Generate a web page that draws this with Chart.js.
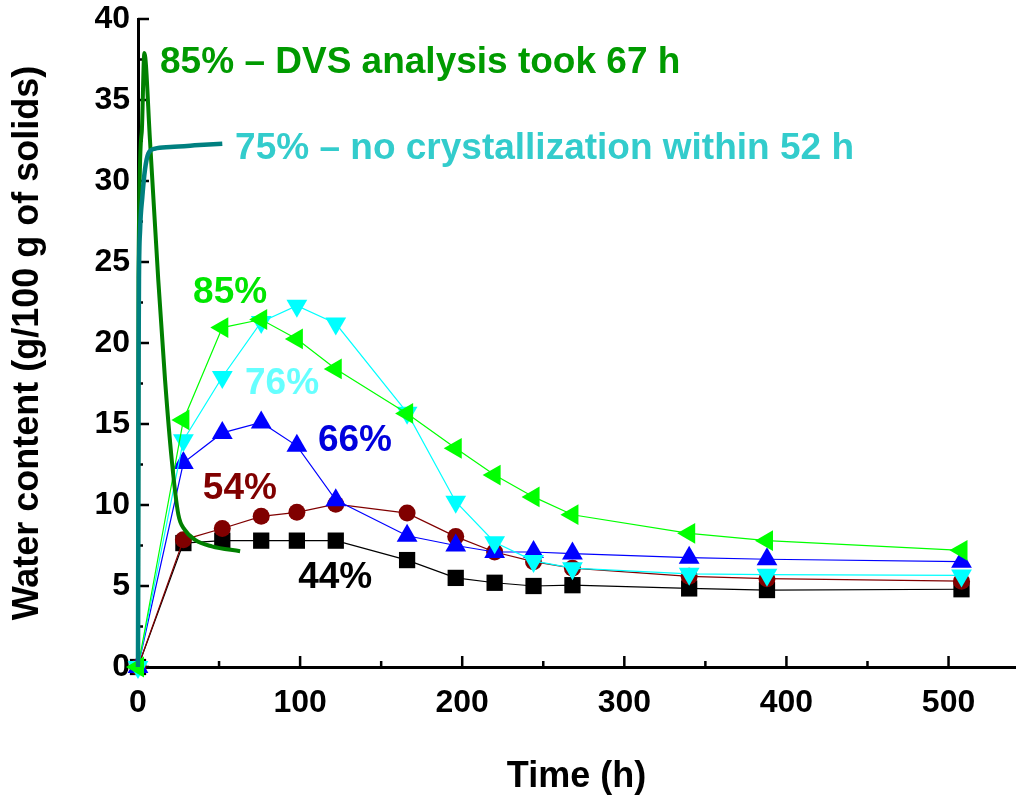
<!DOCTYPE html>
<html>
<head>
<meta charset="utf-8">
<script src="https://cdn.jsdelivr.net/npm/chart.js@4"></script>
<style>
    body { margin: 0; background: #fff; }
    #wrap { width: 1018px; height: 797px; }
</style>
</head>
<body>
<div id="wrap"><canvas id="chart"></canvas></div>
<script>
    // ===== Data =====
    const times = [0, 28, 52, 76, 98, 122, 166, 196, 220, 244, 268, 340, 388, 508];
    const water44 = [0, 7.65, 7.8, 7.8, 7.8, 7.8, 6.6, 5.5, 5.2, 5.0, 5.05, 4.85, 4.75, 4.8];
    const water54 = [0, 7.85, 8.55, 9.3, 9.55, 10.05, 9.5, 8.05, 7.1, 6.5, 6.1, 5.6, 5.45, 5.3];
    const water66 = [0, 12.6, 14.45, 15.1, 13.65, 10.3, 8.1, 7.5, 7.1, 7.1, 7.0, 6.75, 6.65, 6.5];
    const water76 = [0, 14.0, 17.9, 21.3, 22.3, 21.2, 15.7, 10.2, 7.7, 6.55, 6.1, 5.75, 5.7, 5.65];
    const water85 = [0, 15.25, 20.95, 21.45, 20.25, 18.4, 15.65, 13.5, 11.85, 10.5, 9.4, 8.25, 7.8, 7.2];

    const dvs85Time = [0, 0.3, 2.3, 3.9, 7.4, 12.5, 16.7, 20.8, 24.9, 29, 35.2, 45.5, 63];
    const dvs85Water = [0, 24, 33, 37.9, 32.5, 23.9, 17.7, 12.8, 9.4, 8.45, 7.85, 7.45, 7.15];
    const dvs75Time = [0, 0.2, 0.4, 0.6, 1.3, 2.65, 4.3, 6.4, 10.5, 20, 35, 52];
    const dvs75Water = [0, 10, 20, 24, 27, 29, 30.7, 31.7, 32.0, 32.1, 32.2, 32.3];

    const xTicks = [0, 100, 200, 300, 400, 500];
    const xMinor = [50, 150, 250, 350, 450];
    const yTicks = [0, 5, 10, 15, 20, 25, 30, 35, 40];
    const yMinor = [2.5, 7.5, 12.5, 17.5, 22.5, 27.5, 32.5, 37.5];

    const labels = ['85% – DVS analysis took 67 h', '75% – no crystallization within 52 h',
        '85%', '76%', '66%', '54%', '44%'];

    const FONT = '"Liberation Sans", Arial, sans-serif';

    function pts(xs, ys) {
        return xs.map((x, i) => ({ x: x, y: ys[i] }));
    }

    function series(values, color, style, rotation, radius) {
        return {
            data: pts(times, values),
            showLine: true,
            borderColor: color,
            borderWidth: 1.2,
            backgroundColor: color,
            pointBackgroundColor: color,
            pointBorderColor: color,
            pointBorderWidth: 0,
            pointStyle: style,
            rotation: rotation,
            pointRadius: radius,
            pointHoverRadius: radius,
            clip: false
        };
    }

    function curve(xs, ys, color, width) {
        return {
            data: pts(xs, ys),
            showLine: true,
            borderColor: color,
            borderWidth: width,
            pointRadius: 0,
            tension: 0.4,
            cubicInterpolationMode: 'monotone',
            clip: false
        };
    }

    // ===== Plugins =====
    const innerTicks = {
        id: 'innerTicks',
        beforeDatasetsDraw(chart) {
            const { ctx, chartArea, scales } = chart;
            ctx.save();
            ctx.strokeStyle = '#000';
            ctx.lineWidth = 2.5;
            ctx.beginPath();
            xTicks.forEach(v => {
                const px = scales.x.getPixelForValue(v);
                ctx.moveTo(px, chartArea.bottom);
                ctx.lineTo(px, chartArea.bottom - 11);
            });
            xMinor.forEach(v => {
                const px = scales.x.getPixelForValue(v);
                ctx.moveTo(px, chartArea.bottom);
                ctx.lineTo(px, chartArea.bottom - 6);
            });
            yTicks.forEach(v => {
                const py = scales.y.getPixelForValue(v);
                ctx.moveTo(chartArea.left, py);
                ctx.lineTo(chartArea.left + 11, py);
            });
            yMinor.forEach(v => {
                const py = scales.y.getPixelForValue(v);
                ctx.moveTo(chartArea.left, py);
                ctx.lineTo(chartArea.left + 5, py);
            });
            ctx.stroke();
            ctx.restore();
        }
    };

    const notes = {
        id: 'notes',
        afterDatasetsDraw(chart) {
            const { ctx, scales } = chart;
            // anchor (left, middle) of each label in data units
            const spots = [
                [13.6, 37.3, '#009a00'],
                [59.9, 32.0, '#33cccc'],
                [34, 23.1, '#00e600'],
                [66, 17.5, '#66ffff'],
                [111, 13.95, '#0000dd'],
                [40, 11.0, '#800000'],
                [98.8, 5.5, '#000000']
            ];
            ctx.save();
            ctx.font = 'bold 37px ' + FONT;
            ctx.textAlign = 'left';
            ctx.textBaseline = 'middle';
            labels.forEach((t, i) => {
                const s = spots[i];
                ctx.fillStyle = s[2];
                ctx.fillText(t, scales.x.getPixelForValue(s[0]), scales.y.getPixelForValue(s[1]));
            });
            ctx.restore();
        }
    };

    // ===== Chart =====
    new Chart(document.getElementById('chart'), {
        type: 'scatter',
        data: {
            datasets: [
                curve(dvs75Time, dvs75Water, '#008080', 4.5),
                curve(dvs85Time, dvs85Water, '#008000', 4),
                series(water85, '#00ff00', 'triangle', -90, 12),
                series(water76, '#00ffff', 'triangle', 180, 12),
                series(water66, '#0000ff', 'triangle', 0, 12),
                series(water54, '#800000', 'circle', 0, 8.5),
                series(water44, '#000000', 'rect', 0, 11.5)
            ]
        },
        options: {
            responsive: true,
            maintainAspectRatio: false,
            animation: false,
            events: [],
            layout: { autoPadding: false, padding: { top: 19, right: 3, left: 0, bottom: 0 } },
            plugins: {
                legend: { display: false },
                tooltip: { enabled: false }
            },
            scales: {
                x: {
                    type: 'linear',
                    min: 0,
                    max: 541,
                    afterBuildTicks: s => { s.ticks = xTicks.map(v => ({ value: v })); },
                    afterFit: s => { s.height = 130; },
                    grid: { display: false, drawTicks: false },
                    border: { display: true, color: '#000', width: 3 },
                    ticks: {
                        color: '#000',
                        padding: 17,
                        maxRotation: 0,
                        font: { family: FONT, size: 32, weight: 'bold' }
                    },
                    title: {
                        display: true,
                        text: 'Time (h)',
                        color: '#000',
                        padding: { top: 0, bottom: 0 },
                        font: { family: FONT, size: 36, weight: 'bold', lineHeight: 1.1 }
                    }
                },
                y: {
                    type: 'linear',
                    min: 0,
                    max: 40,
                    afterBuildTicks: s => { s.ticks = yTicks.map(v => ({ value: v })); },
                    afterFit: s => { s.width = 138; },
                    grid: { display: false, drawTicks: false },
                    border: { display: true, color: '#000', width: 3 },
                    ticks: {
                        color: '#000',
                        padding: 8,
                        font: { family: FONT, size: 32, weight: 'bold', lineHeight: 0.5 }
                    },
                    title: {
                        display: true,
                        text: 'Water content (g/100 g of solids)',
                        color: '#000',
                        padding: { top: 6, bottom: 0 },
                        font: { family: FONT, size: 36, weight: 'bold' }
                    }
                }
            }
        },
        plugins: [innerTicks, notes]
    });
</script>
</body>
</html>
